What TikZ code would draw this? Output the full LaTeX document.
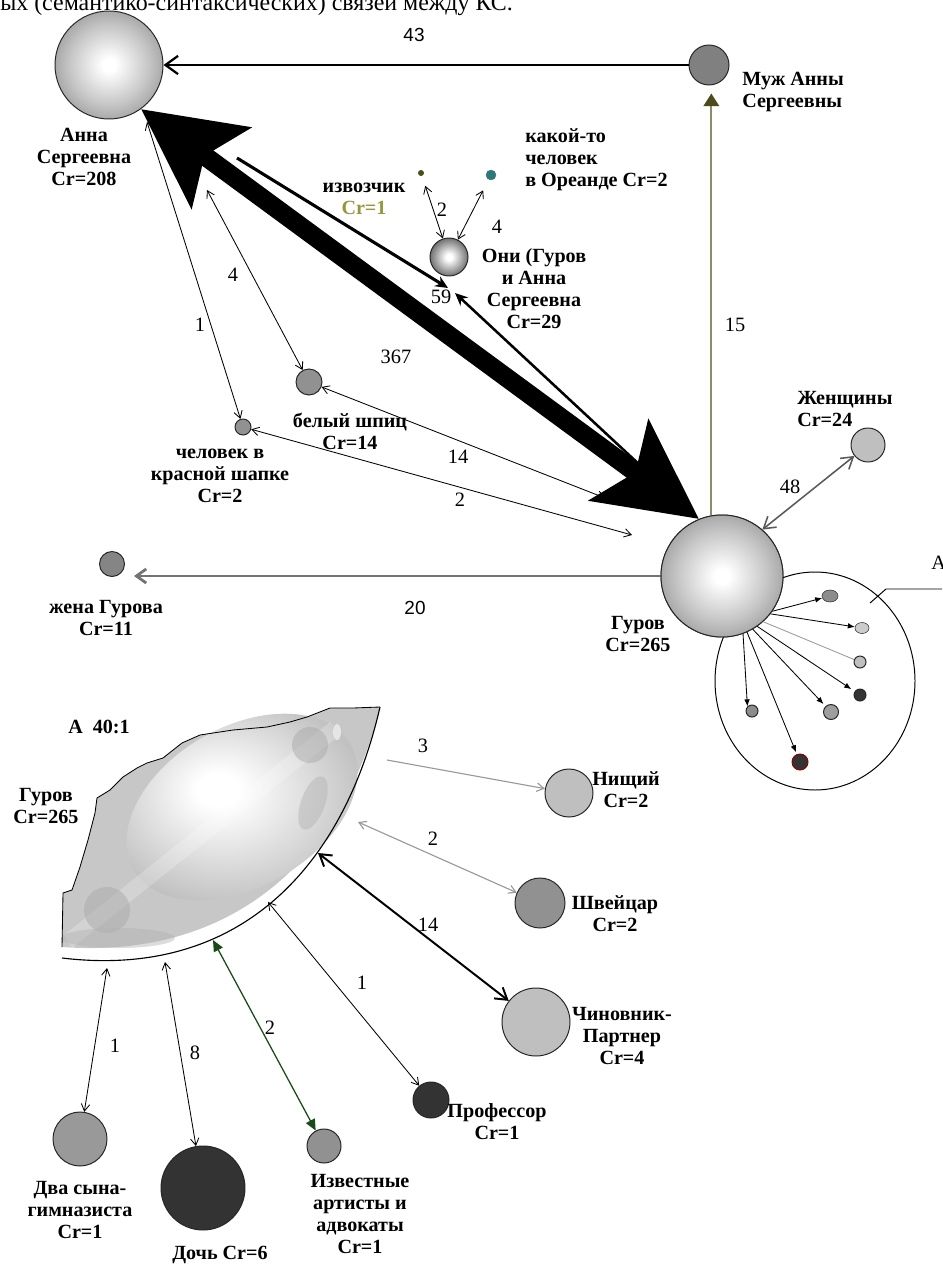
\documentclass[tikz,border=0pt]{standalone}
\usepackage{fontspec}
\setmainfont{Liberation Serif}
\newfontfamily\sansnum{Liberation Sans}
\usetikzlibrary{arrows.meta,shapes.geometric}
\newlength{\upx}
\setlength{\upx}{0.025cm}
\pgfdeclareradialshading{orb}{\pgfpoint{0bp}{0bp}}{color(0bp)=(white); color(3bp)=(white); color(18bp)=(black!22); color(35bp)=(black!50); color(50bp)=(black!55)}
\pgfdeclareradialshading{orbdark}{\pgfpoint{0bp}{0bp}}{color(0bp)=(white); color(4bp)=(white); color(35bp)=(black!82); color(50bp)=(black!85)}
\pgfdeclareradialshading{lens}{\pgfpoint{-5bp}{5bp}}{color(0bp)=(white); color(4bp)=(white); color(35bp)=(black!34); color(50bp)=(black!36)}
\definecolor{olivedk}{RGB}{75,75,30}
\definecolor{oliveln}{RGB}{140,140,105}
\definecolor{olivetx}{RGB}{150,150,60}
\definecolor{tealdot}{RGB}{35,125,125}
\definecolor{artgreen}{RGB}{25,75,25}
\tikzset{
  kc/.style={circle,draw=black!85,line width=0.7pt,inner sep=0pt,minimum size=#1\upx},
  kclbl/.style={font=\fontsize{14.3}{15.7}\selectfont\bfseries,align=center,inner sep=0pt},
  wnum/.style={font=\fontsize{14.5}{16}\selectfont,inner sep=0pt},
  snum/.style={font=\sansnum\fontsize{13.5}{15}\selectfont,inner sep=0pt},
  thinlink/.style={line width=0.6pt,<->},
}
\begin{document}
\begin{tikzpicture}[x=0.025cm,y=-0.025cm,>={Straight Barb[length=5pt,width=6pt]}]
\useasboundingbox (0,0) rectangle (942,1266);
\node[anchor=base west,inner sep=0pt,font=\fontsize{17}{18}\selectfont] (title) at (0,11) {ых (семантико-синтаксических) связей между КС.};

% upper graph
\node[kc=108,shading=orb] (anna) at (109,65) {};
\node[kc=40,fill=black!50] (muz) at (709,65) {};
\node[kc=122,shading=orb] (guro) at (722,576) {};
\node[kc=38,shading=orbdark] (oni) at (449,257) {};
\node[kc=6,fill=olivedk,draw=none] (izv) at (421,173) {};
\node[kc=10,fill=tealdot,draw=black!60,line width=0.3pt] (kak) at (491,175) {};
\node[kc=26,fill=black!43] (shp) at (309,382) {};
\node[kc=16,fill=black!43] (kras) at (243,427) {};
\node[kc=34,fill=black!25] (zhen) at (868,445) {};
\node[kc=25,fill=black!48] (zhena) at (112,564) {};

\node[kclbl] (lanna) at (84,157) {Анна\\Сергеевна\\Cr=208};
\node[kclbl,align=left,anchor=west] (lmuz) at (742,92) {Муж Анны\\Сергеевны};
\node[kclbl] (lguro) at (638,634) {Гуров\\Cr=265};
\node[kclbl] (loni) at (534,289) {Они (Гуров\\и Анна\\Сергеевна\\Cr=29};
\node[kclbl] (lizv) at (364,199) {извозчик\\\textcolor{olivetx}{Cr=1}};
\node[kclbl,align=left,anchor=west] (lkak) at (525,160) {какой-то\\человек\\в Ореанде Cr=2};
\node[kclbl] (lshp) at (350,431) {белый шпиц\\Cr=14};
\node[kclbl] (lkras) at (220,476) {человек в\\красной шапке\\Cr=2};
\node[kclbl,align=left,anchor=west] (lzhen) at (797,409) {Женщины\\Cr=24};
\node[kclbl] (lzhena) at (106,618) {жена Гурова\\Cr=11};

\coordinate (fromA) at (237,158);
\coordinate (fromG) at (642,467);
\coordinate (t59a) at (448,288);
\coordinate (t59b) at (455,293);
\coordinate (aK) at (147,122);
\coordinate (aS) at (207,190);
\coordinate (gS) at (605,498);
\coordinate (gK) at (632,535);

\draw[line width=1.6pt,-{Straight Barb[length=9pt,width=13pt]}] (muz) -- (anna);
\draw[oliveln,line width=1.5pt,-{Triangle[length=9pt,width=11pt,color=olivedk]},shorten >=8\upx] (guro.100) -- (guro.100 |- muz.south);
\draw[line width=13.5pt,{Stealth[length=70pt,width=70pt,inset=14pt]}-{Stealth[length=70pt,width=70pt,inset=14pt]}] (anna.-54) -- (guro.112);
\draw[line width=2.2pt,-{Stealth[length=9pt,width=8pt]}] (fromA) -- (t59a);
\draw[line width=1.8pt,-{Stealth[length=9pt,width=8pt]}] (fromG) -- (t59b);
\draw[thinlink,shorten <=10\upx] (izv) -- (oni);
\draw[thinlink,shorten <=12\upx] (kak) -- (oni);
\draw[thinlink] (aK) -- (kras);
\draw[thinlink] (aS) -- (shp);
\draw[thinlink] (shp) -- (gS);
\draw[thinlink] (kras) -- (gK);
\draw[black!55,line width=2pt,-{Straight Barb[length=7pt,width=10pt]},shorten >=9\upx] (guro.west) -- (guro.west -| zhena.east);
\draw[black!65,line width=1.1pt,<->,>={Straight Barb[length=8pt,width=10pt]}] (guro.49) -- (zhen);

\node[snum] (n43) at (414,35) {43};
\node[wnum] (n15) at (735,325) {15};
\node[wnum] (n367) at (396,357) {367};
\node[wnum] (n59) at (441,297) {59};
\node[wnum] (n2a) at (442,210) {2};
\node[wnum] (n4a) at (497,227) {4};
\node[wnum] (n4b) at (233,275) {4};
\node[wnum] (n1a) at (200,325) {1};
\node[wnum] (n14a) at (458,457) {14};
\node[wnum] (n2b) at (460,500) {2};
\node[wnum] (n48) at (790,487) {48};
\node[snum] (n20) at (415,608) {20};

% inset A
\draw[line width=0.7pt] (815,681) ellipse [x radius=100, y radius=109];
\node[kc=122,shading=orb] at (guro) {};
\node[ellipse,draw=black!80,fill=black!45,inner sep=0pt,minimum width=16\upx,minimum height=12\upx] (d1) at (830,596) {};
\node[ellipse,draw=black!80,fill=black!20,inner sep=0pt,minimum width=14\upx,minimum height=11\upx] (d2) at (862,628) {};
\node[kc=12,fill=black!25] (d3) at (860,662) {};
\node[kc=12,fill=black!80] (d4) at (860,695) {};
\node[kc=15,fill=black!38] (d5) at (831,712) {};
\node[kc=12,fill=black!45] (d6) at (752,711) {};
\node[kc=16,fill=black!80,draw=red!55!black] (d7) at (800,762) {};
\draw[line width=0.6pt,-{Latex[length=5pt,width=4pt]}] (guro.-35) -- (d1);
\draw[line width=0.6pt,-{Latex[length=5pt,width=4pt]}] (guro.-38) -- (d2);
\draw[black!40,line width=0.6pt] (guro.-48) -- (d3);
\draw[line width=0.6pt,-{Latex[length=5pt,width=4pt]},shorten >=4\upx] (guro.-55) -- (d4);
\draw[line width=0.6pt,-{Latex[length=5pt,width=4pt]},shorten >=3\upx] (guro.-60) -- (d5);
\draw[line width=0.6pt,-{Latex[length=5pt,width=4pt]}] (guro.-70) -- (d6.north west);
\draw[line width=0.6pt,-{Latex[length=5pt,width=4pt]},shorten >=2\upx] (guro.-66) -- (d7);
\coordinate (aIn) at (870,603);
\coordinate (aOut) at (942,589);
\draw[line width=0.7pt] (aIn) -- (886,589) -- (aOut);
\node[wnum,anchor=west] (lA) at (931,563) {A};

% cut-away A 40:1
\fill[black!22] (62,947) -- (63,893) -- (72,890) -- (80,867) -- (88,840) -- (95,813) -- (97,798) -- (110,790) -- (123,777) -- (137,768) -- (147,763) -- (163,758) -- (182,743) -- (200,735) -- (233,730) -- (267,727) -- (290,722) -- (307,717) -- (330,708) -- (353,708) -- (380,707) .. controls (345,850) and (240,960) .. (62,947) -- cycle;
\shade[shading=lens,rotate around={30:(242,807)}] (242,807) ellipse [x radius=125, y radius=80];
\fill[white,opacity=.22] (64,935) -- (330,722) -- (340,735) -- (72,948) -- cycle;
\fill[black!35,opacity=.45] (310,745) circle [radius=18];
\fill[white!90!black] (337,732) ellipse [x radius=4, y radius=8];
\fill[black!30,opacity=.45,rotate around={70:(313,803)}] (313,803) ellipse [x radius=28, y radius=12];
\fill[black!35,opacity=.45] (107,910) circle [radius=23];
\fill[black!30,opacity=.45] (118,938) ellipse [x radius=57, y radius=10];
\draw[line width=0.6pt] (62,947) -- (63,893) -- (72,890) -- (80,867) -- (88,840) -- (95,813) -- (97,798) -- (110,790) -- (123,777) -- (137,768) -- (147,763) -- (163,758) -- (182,743) -- (200,735) -- (233,730) -- (267,727) -- (290,722) -- (307,717) -- (330,708) -- (353,708) -- (380,707);
\draw[line width=0.8pt] (380,707) .. controls (345,860) and (245,980) .. (62,958);
\node[kclbl] (la40) at (99,727) {A\ \ 40:1};
\node[kclbl] (lcut) at (46,806) {Гуров\\Cr=265};

\node[kc=48,fill=black!25] (nish) at (569,793) {};
\node[kc=50,fill=black!43] (shv) at (540,903) {};
\node[kc=68,fill=black!25] (chin) at (536,1022) {};
\node[kc=36,fill=black!80] (prof) at (431,1100) {};
\node[kc=34,fill=black!43] (artz) at (324,1146) {};
\node[kc=84,fill=black!80] (doch) at (203,1188) {};
\node[kc=54,fill=black!40] (syn) at (80,1139) {};

\node[kclbl] (lnish) at (626,790) {Нищий\\Cr=2};
\node[kclbl] (lshv) at (615,914) {Швейцар\\Cr=2};
\node[kclbl] (lchin) at (622,1036) {Чиновник-\\Партнер\\Cr=4};
\node[kclbl] (lprof) at (497,1122) {Профессор\\Cr=1};
\node[kclbl] (lartz) at (360,1214) {Известные\\артисты и\\адвокаты\\Cr=1};
\node[kclbl] (ldoch) at (220,1255) {Дочь Cr=6};
\node[kclbl] (lsyn) at (80,1210) {Два сына-\\гимназиста\\Cr=1};

\coordinate (c3) at (387,760);
\coordinate (c2) at (358,822);
\coordinate (c14) at (318,853);
\coordinate (c1p) at (268,902);
\coordinate (cgr) at (213,940);
\coordinate (c8) at (165,962);
\coordinate (c1s) at (107,968);
\draw[black!40,line width=0.8pt,->] (c3) -- (nish);
\draw[black!40,line width=0.8pt,<->] (c2) -- (shv);
\draw[line width=1.4pt,<->,>={Straight Barb[length=8pt,width=10pt]}] (c14) -- (chin);
\draw[thinlink] (c1p) -- (prof);
\draw[artgreen,line width=0.9pt,{Triangle[length=8pt,width=7pt]}-{Triangle[length=8pt,width=7pt]}] (cgr) -- (artz);
\draw[thinlink] (c8) -- (doch);
\draw[thinlink] (c1s) -- (syn);

\node[wnum] (n3) at (423,746) {3};
\node[wnum] (n2c) at (433,839) {2};
\node[wnum] (n14b) at (428,925) {14};
\node[wnum] (n1c) at (362,983) {1};
\node[wnum] (n2d) at (270,1028) {2};
\node[wnum] (n8) at (195,1053) {8};
\node[wnum] (n1d) at (115,1046) {1};
\end{tikzpicture}
\end{document}
